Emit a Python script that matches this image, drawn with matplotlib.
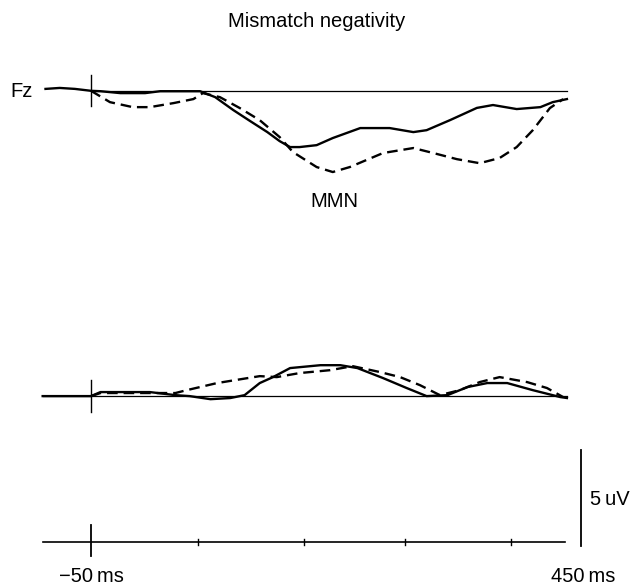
import matplotlib
matplotlib.use("Agg")
import matplotlib.pyplot as plt

plt.rcParams['font.family'] = ['Liberation Sans', 'DejaVu Sans']

# ---- data (time in ms, amplitude in uV relative to each channel baseline) ----
top_solid_t = [-98, -83, -67, -50, -40, -19, 7, 23, 65, 81, 100, 118, 136, 149, 160, 170,
               188, 205, 234, 265, 290, 304, 329, 357, 374, 399, 424, 437, 452]
top_solid_v = [0.1, 0.15, 0.1, 0.0, -0.02, -0.12, -0.12, -0.02, -0.02, -0.33, -1.0, -1.58,
               -2.15, -2.62, -2.93, -2.93, -2.83, -2.46, -1.94, -1.94, -2.15, -2.05, -1.52,
               -0.89, -0.74, -0.95, -0.85, -0.59, -0.43]

top_dash_t = [-50, -30, -6, 12, 37, 58, 68, 86, 107, 128, 149, 163, 188, 205, 223, 258,
              290, 311, 336, 360, 381, 399, 416, 434, 448]
top_dash_v = [0.0, -0.59, -0.85, -0.85, -0.64, -0.43, -0.12, -0.33, -0.9, -1.53, -2.41,
              -3.19, -3.97, -4.23, -3.97, -3.24, -2.98, -3.24, -3.56, -3.77, -3.5, -2.93,
              -2.05, -0.9, -0.43]

low_solid_t = [-101, -50, -40, 12, 39, 54, 76, 97, 112, 128, 142, 160, 192, 213, 231, 258,
               283, 304, 326, 347, 368, 389, 416, 445, 452]
low_solid_v = [0.0, 0.0, 0.21, 0.21, 0.05, 0.0, -0.16, -0.1, 0.05, 0.68, 0.99, 1.46, 1.61,
               1.61, 1.46, 0.94, 0.42, 0.0, 0.05, 0.47, 0.68, 0.68, 0.31, -0.05, -0.1]

low_dash_t = [-50, -40, 12, 39, 51, 83, 128, 146, 170, 202, 226, 255, 276, 297, 318, 339,
              360, 381, 410, 431, 448]
low_dash_v = [0.0, 0.16, 0.16, 0.16, 0.31, 0.68, 1.04, 0.99, 1.2, 1.35, 1.56, 1.25, 0.99,
              0.57, 0.05, 0.31, 0.73, 0.99, 0.73, 0.42, -0.05]

axis_ticks_ms = [63, 175, 281, 393]
time_labels = ["\u221250\u2009ms", "450\u2009ms"]
channel_label = "Fz"
title = "Mismatch negativity"
component_label = "MMN"
scale_uv = 5

# channel offsets (uV above time axis)
top_offset = 23.5
low_offset = 7.6

fig = plt.figure(figsize=(6.33, 5.86), dpi=100)
ax = fig.add_axes([0, 0, 1, 1])
ax.set_xlim(-146.0, 521.7)
ax.set_ylim(-2.29, 28.23)
ax.axis('off')

lw_trace = 1.7
dash = (0, (4.5, 2.5))
fs = 14.5

# top channel
ax.plot([-50, 452], [top_offset, top_offset], color='black', lw=0.9)
ax.plot([-50, -50], [top_offset + 0.8, top_offset - 0.78], color='black', lw=1.0)
ax.plot(top_solid_t, [v + top_offset for v in top_solid_v], color='black', lw=lw_trace)
ax.plot(top_dash_t, [v + top_offset for v in top_dash_v], color='black', lw=lw_trace,
        linestyle=dash)

# lower channel
ax.plot([-101, 452], [low_offset, low_offset], color='black', lw=0.9)
ax.plot([-50, -50], [low_offset + 0.83, low_offset - 0.83], color='black', lw=1.0)
ax.plot(low_solid_t, [v + low_offset for v in low_solid_v], color='black', lw=lw_trace)
ax.plot(low_dash_t, [v + low_offset for v in low_dash_v], color='black', lw=lw_trace,
        linestyle=dash)

# time axis
ax.plot([-101, 450], [0, 0], color='black', lw=1.2)
ax.plot([-50, -50], [0.88, -0.73], color='black', lw=1.3)
for t in axis_ticks_ms:
    ax.plot([t, t], [0.15, -0.15], color='black', lw=1.0)

# scale bar
ax.plot([467, 467], [-0.21, -0.21 + scale_uv], color='black', lw=1.3)
ax.text(476, 1.93, f"{scale_uv}\u2009uV", ha='left', va='baseline', fontsize=fs)

# texts
ax.text(-50, -2.08, time_labels[0], ha='center', va='baseline', fontsize=fs)
ax.text(469, -2.08, time_labels[1], ha='center', va='baseline', fontsize=fs)
ax.text(-135, 23.18, channel_label, ha='left', va='baseline', fontsize=fs)
ax.text(207, 17.45, component_label, ha='center', va='baseline', fontsize=fs)
ax.text(188, 26.82, title, ha='center', va='baseline', fontsize=fs)

fig.savefig("out.png", dpi=100)
